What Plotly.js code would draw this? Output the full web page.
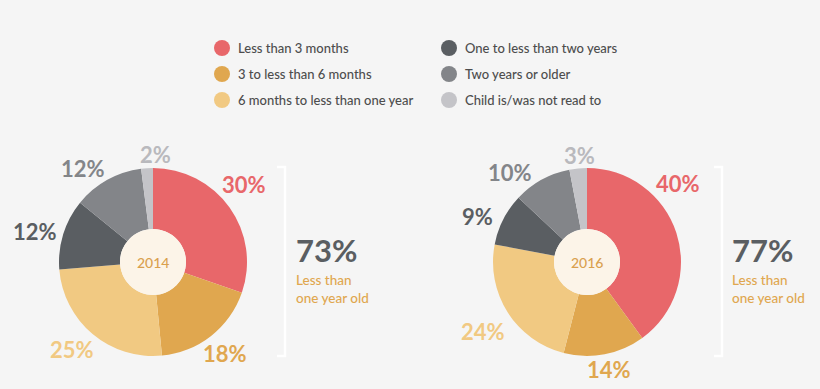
<!DOCTYPE html>
<html>
<head>
<meta charset="utf-8">
<script src="https://cdn.plot.ly/plotly-3.0.1.min.js"></script>
<style>html,body{margin:0;padding:0;background:#f5f5f5;}#chart{width:820px;height:389px;}</style>
</head>
<body>
<div id="chart"></div>
<script>
// ---- data ----
const categories = ["Less than 3 months", "3 to less than 6 months", "6 months to less than one year",
                    "One to less than two years", "Two years or older", "Child is/was not read to"];
const years = ["2014", "2016"];
const values2014 = [30, 18, 25, 12, 12, 2];
const values2016 = [40, 14, 24, 9, 10, 3];
const totals = ["73%", "77%"];
const totalCaption = "Less than<br>one year old";

// ---- styling / layout ----
const colors = ["#e8676a", "#e0a74f", "#f1c982", "#5a5e62", "#838589", "#c4c4c8"];
const labelColors = ["#e8676a", "#e0a74f", "#f1c982", "#5a5e62", "#838589", "#b9b9bd"];
const W = 820, H = 389;
const FONT = "Lato, 'Open Sans', sans-serif";
const pies = [
  {cx: 153, cy: 262, values: values2014, bracketX: 285, totalX: 297,
   labelAngleShift: [-5, 0, 3, -2.6, -7.6, 5], labelR: [120, 117, 119, 122, 117, 108]},
  {cx: 587, cy: 262, values: values2016, bracketX: 722, totalX: 733,
   labelAngleShift: [-23, -1, -1.5, -4.5, -12, 1.5], labelR: [120, 110, 125, 118, 118, 107]}
];
const R = 94, HOLE_R = 33;
const px = x => x / W, py = y => 1 - y / H;

const data = [];
const shapes = [];
const annotations = [];

pies.forEach((p, i) => {
  data.push({
    type: "pie", values: p.values, labels: categories, sort: false, direction: "clockwise",
    rotation: 0, hole: HOLE_R / R, textinfo: "none", hoverinfo: "label+value",
    marker: {colors: colors, line: {width: 0}}, showlegend: false,
    domain: {x: [px(p.cx - R), px(p.cx + R)], y: [py(p.cy + R), py(p.cy - R)]}
  });
  shapes.push({type: "circle", xref: "paper", yref: "paper", layer: "above",
    x0: px(p.cx - HOLE_R), x1: px(p.cx + HOLE_R), y0: py(p.cy + HOLE_R), y1: py(p.cy - HOLE_R),
    fillcolor: "#fcf4e8", line: {width: 0}});
  annotations.push({xref: "paper", yref: "paper", x: px(p.cx), y: py(p.cy), text: years[i],
    showarrow: false, xanchor: "center", yanchor: "middle",
    font: {family: FONT, size: 14, color: "#d9a04e", weight: 500}});
  // percentage labels, placed around each slice's mid-angle
  const total = p.values.reduce((a, b) => a + b, 0);
  let cum = 0;
  p.values.forEach((v, k) => {
    const mid = (cum + v / 2) / total * 360 + p.labelAngleShift[k];
    cum += v;
    const a = mid * Math.PI / 180;
    const lx = p.cx + p.labelR[k] * Math.sin(a);
    const ly = p.cy - p.labelR[k] * Math.cos(a);
    annotations.push({xref: "paper", yref: "paper", x: px(lx), y: py(ly), text: v + "%",
      showarrow: false, xanchor: "center", yanchor: "middle",
      font: {family: FONT, size: 22, color: labelColors[k], weight: 700}});
  });
  // bracket
  const bx = p.bracketX, top = 167, bot = 356;
  shapes.push({type: "path", xref: "paper", yref: "paper", layer: "below",
    path: `M ${px(bx - 8)} ${py(top)} L ${px(bx)} ${py(top)} L ${px(bx)} ${py(bot)} L ${px(bx - 8)} ${py(bot)}`,
    line: {color: "#ffffff", width: 2.5}});
  // total
  annotations.push({xref: "paper", yref: "paper", x: px(p.totalX - 3), y: py(250), text: totals[i],
    showarrow: false, xanchor: "left", yanchor: "middle",
    font: {family: FONT, size: 31, color: "#5a5e62", weight: 700}});
  annotations.push({xref: "paper", yref: "paper", x: px(p.totalX - 3), y: py(289), text: totalCaption,
    showarrow: false, xanchor: "left", yanchor: "middle", align: "left",
    font: {family: FONT, size: 13.5, color: "#e0a74f", weight: 500}});
});

// legend (two columns of three)
const legX = [222, 449], legY = [48, 74, 100];
const mx = [], my = [];
categories.forEach((c, k) => {
  const col = Math.floor(k / 3), row = k % 3;
  mx.push(legX[col]); my.push(legY[row]);
  annotations.push({xref: "paper", yref: "paper", x: px(legX[col] + 14), y: py(legY[row]), text: c,
    showarrow: false, xanchor: "left", yanchor: "middle",
    font: {family: FONT, size: 13, color: "#4d4d4d", weight: 500}});
});
data.push({type: "scatter", mode: "markers", x: mx, y: my, hoverinfo: "skip", showlegend: false,
  marker: {size: 16, color: colors, line: {width: 0}}});

const layout = {
  width: W, height: H, margin: {l: 0, r: 0, t: 0, b: 0},
  paper_bgcolor: "#f5f5f5", plot_bgcolor: "rgba(0,0,0,0)",
  xaxis: {range: [0, W], visible: false, fixedrange: true},
  yaxis: {range: [H, 0], visible: false, fixedrange: true},
  shapes: shapes, annotations: annotations, showlegend: false
};
Plotly.newPlot("chart", data, layout, {displayModeBar: false, staticPlot: true});
</script>
</body>
</html>
